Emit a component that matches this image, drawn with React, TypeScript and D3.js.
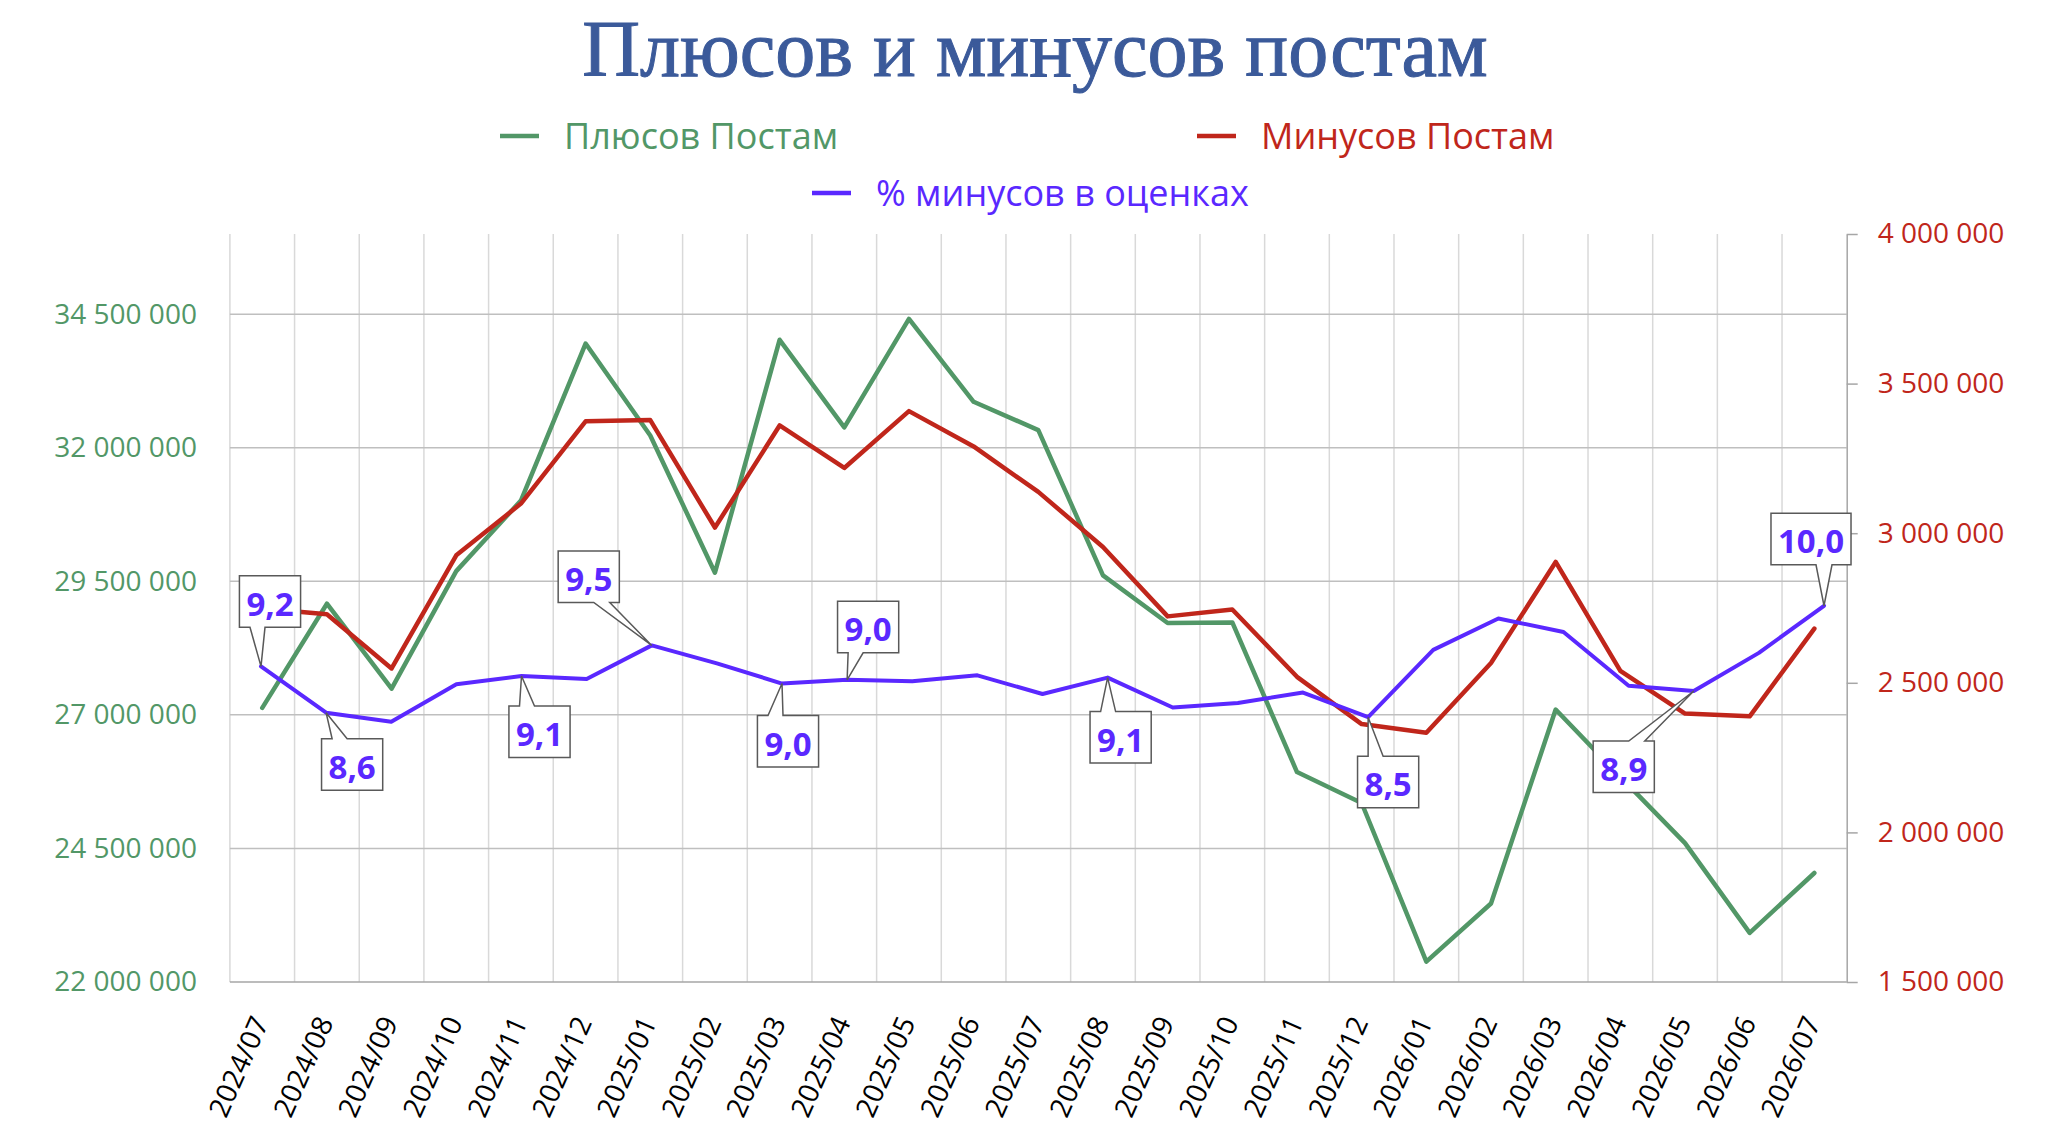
import React, { useEffect, useRef } from "react";
import * as d3 from "d3";

// Data
const months = [
  "2024/07", "2024/08", "2024/09", "2024/10", "2024/11", "2024/12",
  "2025/01", "2025/02", "2025/03", "2025/04", "2025/05", "2025/06",
  "2025/07", "2025/08", "2025/09", "2025/10", "2025/11", "2025/12",
  "2026/01", "2026/02", "2026/03", "2026/04", "2026/05", "2026/06",
  "2026/07",
];

// Плюсов Постам (left axis)
const plusPosts = [
  27130000, 29080000, 27490000, 29690000, 31010000, 33950000,
  32230000, 29660000, 34020000, 32380000, 34410000, 32860000,
  32330000, 29610000, 28720000, 28730000, 25930000, 25350000,
  22380000, 23470000, 27100000, 25840000, 24600000, 22920000,
  24040000,
];

// Минусов Постам (right axis)
const minusPosts = [
  2748000, 2729000, 2548000, 2926000, 3099000, 3374000,
  3378000, 3019000, 3360000, 3218000, 3408000, 3290000,
  3138000, 2954000, 2722000, 2745000, 2520000, 2362000,
  2333000, 2566000, 2904000, 2540000, 2397000, 2388000,
  2681000,
];

// % минусов в оценках (hidden axis)
const minusPercent = [
  9.22, 8.6, 8.48, 8.98, 9.09, 9.05,
  9.5, 9.26, 8.99, 9.04, 9.02, 9.1,
  8.85, 9.07, 8.67, 8.73, 8.87, 8.54,
  9.44, 9.86, 9.68, 8.96, 8.89, 9.4,
  10.03,
];

const leftTicks = [22000000, 24500000, 27000000, 29500000, 32000000, 34500000];
const rightTicks = [1500000, 2000000, 2500000, 3000000, 3500000, 4000000];

// which percent points carry a callout, and where the box sits
const callouts = [
  { i: 0, dx: 9, gap: -39 },
  { i: 1, dx: 26, gap: 26 },
  { i: 4, dx: 18, gap: 30 },
  { i: 6, dx: -63, gap: -43 },
  { i: 8, dx: 6, gap: 32 },
  { i: 9, dx: 21, gap: -27 },
  { i: 13, dx: 13, gap: 34 },
  { i: 17, dx: 20, gap: 39 },
  { i: 22, dx: -70, gap: 50 },
  { i: 24, dx: -13, gap: -41 },
];

const GREEN = "#529767";
const RED = "#c0261b";
const PURPLE = "#5a28ff";
const FONT = "'Open Sans', 'Noto Sans', sans-serif";

const ru = d3.formatLocale({
  decimal: ",",
  thousands: " ",
  grouping: [3],
  currency: ["", ""],
});
const fmtInt = ru.format(",.0f");
const fmtPct = ru.format(".1f");

export default function App() {
  const svgRef = useRef<SVGSVGElement>(null);

  useEffect(() => {
    const W = 2048;
    const H = 1141;
    const left = 229.9;
    const right = 1846.7;
    const top = 234;
    const bottom = 982;

    const svg = d3.select(svgRef.current);
    svg.selectAll("*").remove();
    svg.attr("width", W).attr("height", H);

    svg.append("rect").attr("width", W).attr("height", H).attr("fill", "#fff");

    const x = d3.scaleBand().domain(months).range([left, right]);
    const cx = (m: string) => (x(m) || 0) + x.bandwidth() / 2;
    const xPct = d3.scalePoint().domain(months).range([261, 1824]);
    const yLeft = d3.scaleLinear().domain([22000000, 36000000]).range([bottom, top]);
    const yRight = d3.scaleLinear().domain([1500000, 4000000]).range([bottom, top]);
    const yPct = d3.scaleLinear().domain([5, 15]).range([bottom, top]);

    // Title
    svg
      .append("text")
      .attr("x", 1035)
      .attr("y", 76)
      .attr("text-anchor", "middle")
      .style("font-family", "'Liberation Serif', serif")
      .style("font-size", "80px")
      .attr("fill", "#3b5a9a")
      .attr("stroke", "#3b5a9a")
      .attr("stroke-width", 1)
      .text("Плюсов и минусов постам");

    // Legend
    const legendItems = [
      { label: "Плюсов Постам", color: GREEN, x: 500, y: 136 },
      { label: "Минусов Постам", color: RED, x: 1197, y: 136 },
      { label: "% минусов в оценках", color: PURPLE, x: 812, y: 193 },
    ];
    legendItems.forEach((d) => {
      const g = svg.append("g").attr("transform", `translate(${d.x},${d.y})`);
      g.append("line")
        .attr("x1", 0)
        .attr("x2", 39)
        .attr("stroke", d.color)
        .attr("stroke-width", 4.5);
      g.append("text")
        .attr("x", 64)
        .attr("dy", "0.35em")
        .style("font-family", FONT)
        .style("font-size", "36px")
        .attr("fill", d.color)
        .text(d.label);
    });

    // Vertical gridlines (category boundaries)
    const bounds = months.map((m) => x(m) || 0);
    svg
      .append("g")
      .selectAll("line")
      .data(bounds)
      .join("line")
      .attr("x1", (d) => d)
      .attr("x2", (d) => d)
      .attr("y1", top)
      .attr("y2", bottom)
      .attr("stroke", "#d9d9d9")
      .attr("stroke-width", 1.5);

    // Horizontal gridlines (left axis)
    svg
      .append("g")
      .selectAll("line")
      .data(leftTicks)
      .join("line")
      .attr("x1", left)
      .attr("x2", right)
      .attr("y1", (d) => yLeft(d))
      .attr("y2", (d) => yLeft(d))
      .attr("stroke", (d, i) => (i === 0 ? "#a6a6a6" : "#bfbfbf"))
      .attr("stroke-width", 1.5);

    // Left axis labels
    const gLeft = svg
      .append("g")
      .attr("transform", `translate(${left},0)`)
      .call(d3.axisLeft(yLeft).tickValues(leftTicks).tickSize(0).tickPadding(33).tickFormat((d) => fmtInt(d as number)));
    gLeft.select(".domain").remove();
    gLeft
      .selectAll("text")
      .style("font-family", FONT)
      .style("font-size", "28px")
      .attr("fill", GREEN);

    // Right axis
    const gRight = svg
      .append("g")
      .attr("transform", `translate(${right},0)`)
      .call(
        d3
          .axisRight(yRight)
          .tickValues(rightTicks)
          .tickSize(11)
          .tickSizeOuter(0)
          .tickPadding(20)
          .tickFormat((d) => fmtInt(d as number))
      );
    gRight.select(".domain").attr("stroke", "#a6a6a6").attr("stroke-width", 1.5);
    gRight.selectAll(".tick line").attr("stroke", "#a6a6a6").attr("stroke-width", 1.5);
    gRight
      .selectAll("text")
      .style("font-family", FONT)
      .style("font-size", "28px")
      .attr("fill", RED);

    // X axis labels, rotated
    svg
      .append("g")
      .selectAll("text")
      .data(months)
      .join("text")
      .attr("transform", (d) => `translate(${cx(d) + 7},1022) rotate(-66)`)
      .attr("text-anchor", "end")
      .style("font-family", FONT)
      .style("font-size", "28px")
      .attr("fill", "#000")
      .text((d) => d);

    // Lines
    const linePlus = d3
      .line<number>()
      .x((_, i) => cx(months[i]))
      .y((d) => yLeft(d));
    const lineMinus = d3
      .line<number>()
      .x((_, i) => cx(months[i]))
      .y((d) => yRight(d));
    const linePct = d3
      .line<number>()
      .x((_, i) => xPct(months[i]) || 0)
      .y((d) => yPct(d));

    svg
      .append("path")
      .datum(plusPosts)
      .attr("d", linePlus)
      .attr("fill", "none")
      .attr("stroke", GREEN)
      .attr("stroke-width", 4.5)
      .attr("stroke-linejoin", "round")
      .attr("stroke-linecap", "round");

    svg
      .append("path")
      .datum(minusPosts)
      .attr("d", lineMinus)
      .attr("fill", "none")
      .attr("stroke", RED)
      .attr("stroke-width", 4.5)
      .attr("stroke-linejoin", "round")
      .attr("stroke-linecap", "round");

    svg
      .append("path")
      .datum(minusPercent)
      .attr("d", linePct)
      .attr("fill", "none")
      .attr("stroke", PURPLE)
      .attr("stroke-width", 4)
      .attr("stroke-linejoin", "round")
      .attr("stroke-linecap", "round");

    // Callout labels for the percent line
    const boxH = 51.5;
    callouts.forEach((c) => {
      const px = xPct(months[c.i]) || 0;
      const py = yPct(minusPercent[c.i]);
      const g = svg.append("g");
      const path = g.append("path");
      const bcx = px + c.dx;
      const by0 = c.gap > 0 ? py + c.gap : py + c.gap - boxH;
      const txt = g
        .append("text")
        .attr("x", bcx)
        .attr("y", by0 + 40)
        .attr("text-anchor", "middle")
        .style("font-family", FONT)
        .style("font-size", "33px")
        .style("font-weight", 700)
        .attr("fill", PURPLE)
        .text(fmtPct(minusPercent[c.i]));
      const tw = (txt.node() as SVGTextElement).getComputedTextLength();
      const bw = tw + 14;
      const bx0 = bcx - bw / 2;
      const bx1 = bcx + bw / 2;
      const [b1, b2] = px < bcx ? [bcx - 20, bcx - 5] : [bcx + 5, bcx + 21];
      let d: string;
      if (c.gap > 0) {
        d = `M${bx0},${by0}L${b1},${by0}L${px},${py}L${b2},${by0}L${bx1},${by0}L${bx1},${by0 + boxH}L${bx0},${by0 + boxH}Z`;
      } else {
        const yb = by0 + boxH;
        d = `M${bx0},${by0}L${bx1},${by0}L${bx1},${yb}L${b2},${yb}L${px},${py}L${b1},${yb}L${bx0},${yb}Z`;
      }
      path
        .attr("d", d)
        .attr("fill", "#fff")
        .attr("stroke", "#595959")
        .attr("stroke-width", 1.5)
        .attr("stroke-linejoin", "miter");
    });
  }, []);

  return (
    <svg
      ref={svgRef}
      style={{ position: "absolute", left: 0, top: 0, display: "block" }}
    ></svg>
  );
}
